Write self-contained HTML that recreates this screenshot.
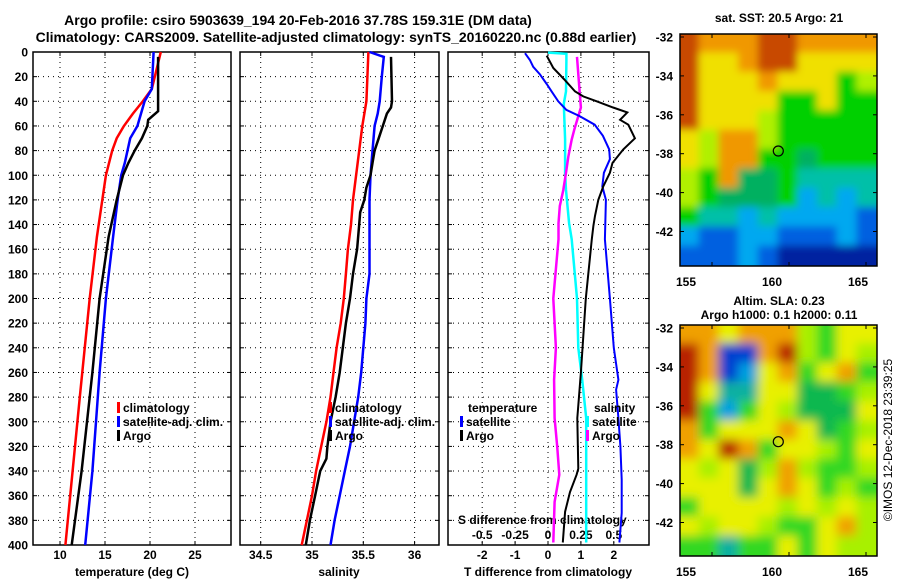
<!DOCTYPE html>
<html><head><meta charset="utf-8">
<style>
html,body{margin:0;padding:0;background:#fff;}
svg{display:block;font-family:"Liberation Sans",Arial,sans-serif;font-weight:bold;}
</style></head>
<body>
<svg id="fig" width="900" height="580" viewBox="0 0 900 580" xmlns="http://www.w3.org/2000/svg">
<defs>
<clipPath id="clipTop"><rect x="680" y="34" width="197" height="232"/></clipPath>
<clipPath id="clipBot"><rect x="680" y="325" width="197" height="231"/></clipPath>
<filter id="blurA" x="-10%" y="-10%" width="120%" height="120%"><feGaussianBlur stdDeviation="4"/></filter>
<filter id="blurB" x="-10%" y="-10%" width="120%" height="120%"><feGaussianBlur stdDeviation="5"/></filter>
</defs>
<text x="298" y="25" font-size="14" text-anchor="middle">Argo profile: csiro 5903639_194 20-Feb-2016 37.78S 159.31E (DM data)</text>
<text x="336" y="42" font-size="14" text-anchor="middle">Climatology: CARS2009. Satellite-adjusted climatology: synTS_20160220.nc (0.88d earlier)</text>
<g id="panels"></g>
<g id="maps"></g>
<text transform="translate(892,440) rotate(-90)" font-size="12" font-weight="normal" text-anchor="middle">©IMOS 12-Dec-2018 23:39:25</text>
</svg>
<script>
// ---- data ----
const tClimDepth=[0,30,40,50,60,70,80,100,120,150,200,280,340,400];
const tClim=[21.2,20.2,19.2,18.1,17.1,16.3,15.8,15.1,14.7,14.1,13.3,12.2,11.4,10.6];
const tSatDepth=[0,30,40,50,60,70,80,90,100,120,150,200,260,300,340,400];
const tSat=[20.4,20.2,19.4,19.0,18.6,17.8,17.5,17.2,16.8,16.4,15.9,15.1,14.4,14.0,13.6,12.8];
const tArgoDepth=[4,48,55,60,70,80,90,100,120,150,200,260,300,340,400];
const tArgo=[20.9,20.9,19.8,19.7,19.1,18.3,17.6,17.0,16.3,15.4,14.4,13.6,13.0,12.4,11.3];

const sClimDepth=[0,40,60,80,100,120,140,160,180,200,220,240,260,280,300,320,340,360,380,400];
const sClim=[35.55,35.53,35.49,35.46,35.43,35.40,35.38,35.35,35.33,35.31,35.28,35.24,35.21,35.18,35.14,35.09,35.04,35.00,34.95,34.90];
const sSatDepth=[0,4,20,40,50,60,80,100,120,180,200,220,240,260,280,300,320,340,360,380,400];
const sSat=[35.56,35.70,35.68,35.66,35.64,35.61,35.59,35.57,35.56,35.56,35.53,35.52,35.50,35.48,35.45,35.41,35.37,35.32,35.27,35.22,35.18];
const sArgoDepth=[4,40,45,50,60,70,80,90,100,110,120,130,140,160,180,200,220,240,260,280,300,320,330,340,360,380,400];
const sArgo=[35.77,35.78,35.77,35.73,35.69,35.65,35.61,35.59,35.57,35.53,35.51,35.47,35.46,35.44,35.40,35.37,35.33,35.30,35.27,35.23,35.18,35.15,35.14,35.08,35.03,34.98,34.94];

const dTSatDepth=[1,6.5,12,18,26,32,40,47,52,59,68,79,87,98,109,120,152,200,240,266,274,297,320,347,374,398];
const dTSat=[-0.70,-0.55,-0.45,-0.25,-0.04,0.11,0.31,0.56,0.96,1.42,1.67,1.86,1.88,1.70,1.65,1.76,1.73,1.88,2.0,2.14,2.07,2.14,2.20,2.24,2.24,2.17];
const dTArgoDepth=[3,13,23,32,36,40,45,49,55,59,70,79,90,98,109,120,133,141,152,200,260,297,338,343,357,373,398];
const dTArgo=[-0.04,0.16,0.52,0.82,1.07,1.48,1.98,2.41,2.19,2.44,2.64,2.29,1.96,1.88,1.68,1.53,1.43,1.38,1.33,1.15,1.0,0.89,0.92,0.87,0.67,0.52,0.45];
const dSSatDepth=[0.5,1.5,6.5,32,42,71,98,112,139,152,200,240,266,297,347,398];
const dSSat=[0.0,0.14,0.14,0.137,0.12,0.13,0.13,0.137,0.16,0.18,0.22,0.23,0.26,0.29,0.29,0.29];
const dSArgoDepth=[4,32,45,52,63,71,85,98,112,125,139,152,200,240,266,297,320,343,365,398];
const dSArgo=[0.22,0.24,0.25,0.23,0.20,0.18,0.154,0.137,0.116,0.09,0.08,0.08,0.04,0.06,0.046,0.05,0.07,0.086,0.05,0.04];

const depthTicks=[0,20,40,60,80,100,120,140,160,180,200,220,240,260,280,300,320,340,360,380,400];
const tTicks=[10,15,20,25];
const sTicks=[34.5,35,35.5,36];
const dTTicks=[-2,-1,0,1,2];
const dSTicks=[-0.5,-0.25,0,0.25,0.5];
const dSTickLabels=["-0.5","-0.25","0","0.25","0.5"];
const latTicks=[-32,-34,-36,-38,-40,-42];
const lonTicks=[155,160,165];

// ---- axes ----
const NS="http://www.w3.org/2000/svg";
const Y0=52,Y1=545;
const yD=d=>Y0+(d/400)*(Y1-Y0);
const xT=t=>60+(t-10)*9;
const xS=s=>260.7+(s-34.5)*102.6;
const xDT=t=>548+t*32.9;
const xDS=s=>548+s*131.6;
const P=[{x0:33,x1:231},{x0:240,x1:439},{x0:448,x1:649}];

function mk(tag,attrs,parent){const e=document.createElementNS(NS,tag);for(const k in attrs)e.setAttribute(k,attrs[k]);parent.appendChild(e);return e;}
const panels=document.getElementById('panels');

P.forEach((p,i)=>{
  const g=mk('g',{},panels);
  
  
  const xs=[tTicks.map(xT),sTicks.map(xS),dTTicks.map(xDT)][i];
  xs.forEach(x=>{const l=mk('line',{x1:x,x2:x,y1:Y0,y2:Y1,stroke:'#000','stroke-width':1,'stroke-dasharray':'1,4'},g);
    });
  depthTicks.forEach(d=>{if(d===0||d===400)return;const l=mk('line',{x1:p.x0,x2:p.x1,y1:yD(d),y2:yD(d),stroke:'#000','stroke-width':1,'stroke-dasharray':'1,4'},g);
    });
  depthTicks.forEach(d=>{mk('line',{x1:p.x0,x2:p.x0+4,y1:yD(d),y2:yD(d),stroke:'#000'},g);mk('line',{x1:p.x1-4,x2:p.x1,y1:yD(d),y2:yD(d),stroke:'#000'},g);});
  xs.forEach(x=>{mk('line',{x1:x,x2:x,y1:Y1-4,y2:Y1,stroke:'#000'},g);mk('line',{x1:x,x2:x,y1:Y0,y2:Y0+4,stroke:'#000'},g);});
  const fr=mk('rect',{x:p.x0,y:Y0,width:p.x1-p.x0,height:Y1-Y0,fill:'none',stroke:'#000','stroke-width':1.5},g);
  
});

depthTicks.forEach(d=>{const t=mk('text',{x:28,y:yD(d)+4.5,'font-size':12,'text-anchor':'end'},panels);t.textContent=d;
  });
function xLabels(ticks,fn,y,labels){ticks.forEach((v,i)=>{const t=mk('text',{x:fn(v),y:y,'font-size':12,'text-anchor':'middle'},panels);t.textContent=labels?labels[i]:v;
  });}
xLabels(tTicks,xT,559);xLabels(sTicks,xS,559);xLabels(dTTicks,xDT,559);
xLabels(dSTicks,xDS,539,dSTickLabels);
function title(txt,x,y,name){const t=mk('text',{x:x,y:y,'font-size':12,'text-anchor':'middle'},panels);t.textContent=txt;
  }
title('temperature (deg C)',132,576,'x-axis-title-temperature');
title('salinity',339,576,'x-axis-title-salinity');
title('T difference from climatology',548,576,'x-axis-title-t-difference');
const sdt=mk('text',{x:458,y:524,'font-size':12},panels);sdt.textContent='S difference from climatology';


function line(depths,vals,fn,color,w,name){
  const pts=depths.map((d,i)=>fn(vals[i]).toFixed(1)+','+yD(d).toFixed(1)).join(' ');
  const l=mk('polyline',{points:pts,fill:'none',stroke:color,'stroke-width':w,'stroke-linejoin':'miter'},panels);
  
}
line(tClimDepth,tClim,xT,'#ff0000',2.5,'temp-climatology-line');
line(tSatDepth,tSat,xT,'#0000ff',2.5,'temp-satellite-line');
line(tArgoDepth,tArgo,xT,'#000',2.5,'temp-argo-line');
line(sClimDepth,sClim,xS,'#ff0000',2.5,'sal-climatology-line');
line(sSatDepth,sSat,xS,'#0000ff',2.5,'sal-satellite-line');
line(sArgoDepth,sArgo,xS,'#000',2.5,'sal-argo-line');
line(dSSatDepth,dSSat,xDS,'#00ffff',2.5,'s-diff-satellite-line');
line(dSArgoDepth,dSArgo,xDS,'#ff00ff',2.5,'s-diff-argo-line');
line(dTSatDepth,dTSat,xDT,'#0000ff',2,'t-diff-satellite-line');
line(dTArgoDepth,dTArgo,xDT,'#000',2,'t-diff-argo-line');

function legend(x,y,color,txt){
  if(color){const b=mk('rect',{x:x,y:y-10,width:3,height:11,fill:color},panels);
    }
  const t=mk('text',{x:x+6,y:y,'font-size':12},panels);t.textContent=txt;
  
}
legend(117,412,'#ff0000','climatology');legend(117,426,'#0000ff','satellite-adj. clim.');legend(117,440,'#000','Argo');
legend(329,412,'#ff0000','climatology');legend(329,426,'#0000ff','satellite-adj. clim.');legend(329,440,'#000','Argo');
legend(462,412,null,'temperature');legend(460,426,'#0000ff','satellite');legend(460,440,'#000','Argo');
legend(588,412,null,'salinity');legend(586,426,'#00ffff','satellite');legend(586,440,'#ff00ff','Argo');

// ---- maps ----
const maps=document.getElementById('maps');
const sstGrid=["ROOORROOOO","RYYORRYYYY","RYYYOYYYGL","RYYYYGGYGG","RYYYLGGGGG","YLOOLGGGGG","YLOOGGgGGG","LGOggGTTTT","LGgggGCTCT","GTTCTCCCCB","CBBCCBBBCB","BBBCBNNNNN"];
const sstCol={R:'#c84800',O:'#f09800',Y:'#f0e000',L:'#b0f000',G:'#00d000',g:'#00b060',T:'#00c0a8',C:'#00a8f0',B:'#0060e0',N:'#0020a0'};
const slaGrid=["OOYOOOLGYY","ROBBORLGYL","ROBCYOGYOG","RYTTYYggGL","RGCGYLgggY","OGYYYOYgGL","OYROGYYLGY","YLYgLOLGGL","YYYgYOYGLG","GYYYYLYLYL","YLYYLGGYOL","GGTGGYGYLL"];
const slaCol={R:'#b82000',O:'#f0a000',Y:'#e8f000',L:'#a8f000',G:'#30d820',g:'#10b850',B:'#0040d0',C:'#00a0e0',T:'#10b0a0'};
function drawMap(y0,h,grid,cols,clip,blur,bg,name,circleY){
  const g=mk('g',{},maps);
  const cg=mk('g',{'clip-path':'url(#'+clip+')'},g);
  mk('rect',{x:680,y:y0,width:197,height:h,fill:bg},cg);
  const bgp=mk('g',{filter:'url(#'+blur+')'},cg);
  const cw=197/10,ch=h/12;
  grid.forEach((row,r)=>{[...row].forEach((c,k)=>{
    const ex=(k===0?-15:0), ew=(k===0||k===9?15:0), ey=(r===0?-15:0), eh=(r===0||r===11?15:0);
    mk('rect',{x:680+k*cw-1+ex,y:y0+r*ch-1+ey,width:cw+2+ew,height:ch+2+eh,fill:cols[c]},bgp);});});
  mk('rect',{x:680,y:y0,width:197,height:h,fill:'none',stroke:'#000','stroke-width':1.5},g);
  const c=mk('circle',{cx:778.3,cy:circleY,r:5,fill:'none',stroke:'#000','stroke-width':1.2},g);
  
  const latY=l=>y0+3+(-32-l)*19.45;
  latTicks.forEach(l=>{const t=mk('text',{x:673,y:latY(l)+4.5,'font-size':12,'text-anchor':'end'},g);t.textContent=l;
    
    mk('line',{x1:680,x2:684,y1:latY(l),y2:latY(l),stroke:'#000'},g);mk('line',{x1:873,x2:877,y1:latY(l),y2:latY(l),stroke:'#000'},g);});
  const lonLab=[686,772,858];
  lonTicks.forEach((lo,i)=>{const t=mk('text',{x:lonLab[i],y:y0+h+20,'font-size':12,'text-anchor':'middle'},g);t.textContent=lo;
    
    const tx=712+(lo-155)*15.4;mk('line',{x1:tx,x2:tx,y1:y0,y2:y0+4,stroke:'#000'},g);mk('line',{x1:tx,x2:tx,y1:y0+h-4,y2:y0+h,stroke:'#000'},g);});
}
drawMap(34,232,sstGrid,sstCol,'clipTop','blurA','#40c040','sst-map',151);
drawMap(325,231,slaGrid,slaCol,'clipBot','blurB','#b0e800','sla-map',441.7);
function mt(txt,y,name){const t=mk('text',{x:779,y:y,'font-size':12,'text-anchor':'middle'},maps);t.textContent=txt;
  }
mt('sat. SST: 20.5 Argo: 21',22,'sst-map-title');
mt('Altim. SLA: 0.23',305,'sla-map-title');
mt('Argo h1000: 0.1 h2000: 0.11',319,'argo-height-title');
</script>
</body></html>
